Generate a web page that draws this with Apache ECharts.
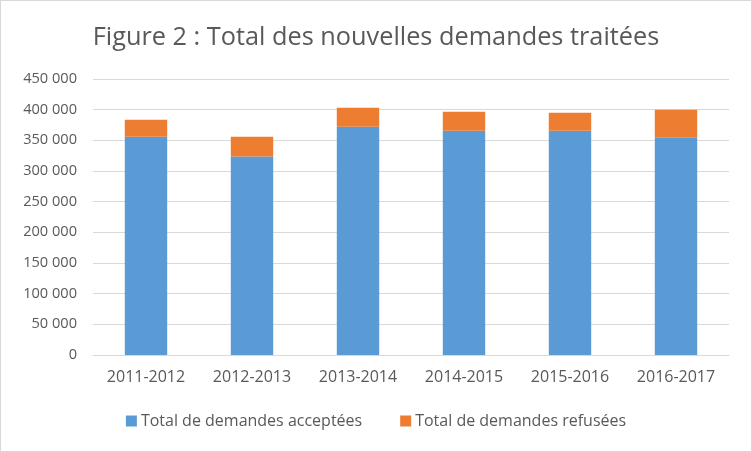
<!DOCTYPE html>
<html><head><meta charset="utf-8">
<script src="https://cdn.jsdelivr.net/npm/echarts@6/dist/echarts.min.js"></script>
<style>html,body{margin:0;padding:0;background:#fff}#c{width:750px;height:450px;border:1px solid #d9d9d9}</style>
</head><body><div id="c"></div>
<script>
var categories = ['2011-2012','2012-2013','2013-2014','2014-2015','2015-2016','2016-2017'];
var accepted = [356000, 323500, 372300, 365800, 365800, 354400];
var refused = [27700, 32500, 31000, 30900, 29200, 45600];
var chart = echarts.init(document.getElementById('c'));
function fmt(v){return String(v).replace(/\B(?=(\d{3})+(?!\d))/g,' ');}
chart.setOption({
  animation:false,
  title:{text:'Figure 2 : Total des nouvelles demandes traitées',left:'center',top:19,
    textStyle:{fontFamily:'Open Sans',fontSize:25.3,fontWeight:'normal',color:'#595959'}},
  grid:{left:92,right:22,top:78,bottom:96},
  legend:{top:412,left:'center',itemWidth:11,itemHeight:11,itemGap:38,icon:'rect',padding:0,
    textStyle:{fontFamily:'Open Sans',fontSize:16,color:'#595959',padding:[0,0,0,-1]}},
  xAxis:{type:'category',data:categories,axisLine:{lineStyle:{color:'#d9d9d9'}},axisTick:{show:false},
    axisLabel:{fontFamily:'Open Sans',fontSize:16,color:'#595959',margin:14}},
  yAxis:{type:'value',min:0,max:450000,interval:50000,axisLine:{show:false},axisTick:{show:false},
    splitLine:{lineStyle:{color:'#d9d9d9',width:1}},
    axisLabel:{fontFamily:'Open Sans',fontSize:14.6,color:'#595959',margin:16,formatter:fmt}},
  series:[
    {name:'Total de demandes acceptées',type:'bar',stack:'t',data:accepted,barWidth:'40%',itemStyle:{color:'#5b9bd5'}},
    {name:'Total de demandes refusées',type:'bar',stack:'t',data:refused,barWidth:'40%',itemStyle:{color:'#ed7d31'}}
  ]
});
</script></body></html>
